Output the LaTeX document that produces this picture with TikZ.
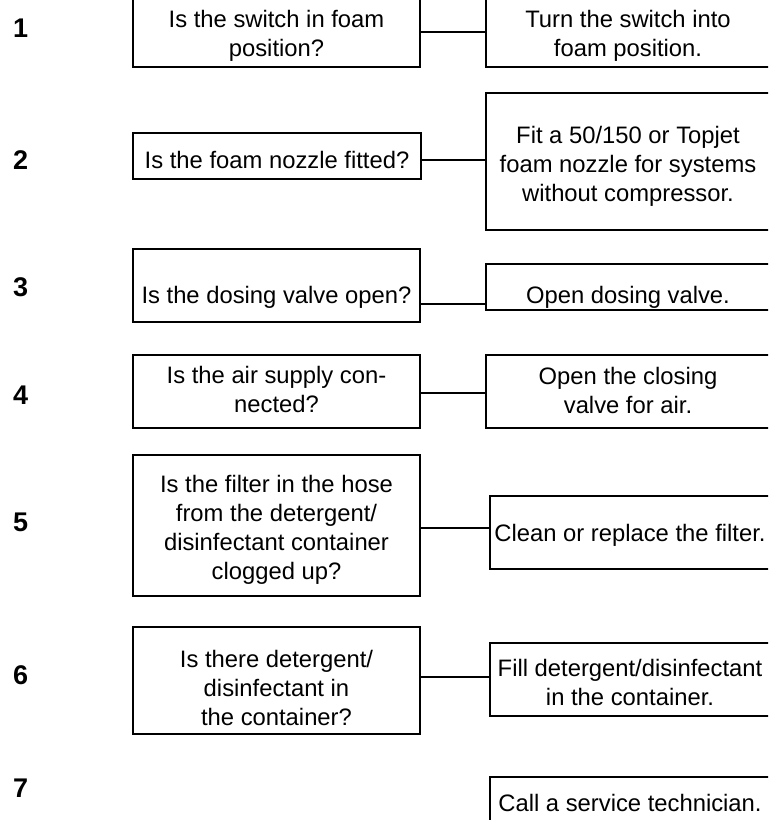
\documentclass[tikz,border=0pt]{standalone}
\usepackage{fontspec}
\setmainfont{Liberation Sans}
\begin{document}
\begin{tikzpicture}[x=0.5pt, y=-0.5pt, line width=1pt, line join=miter,
	box/.style={draw, inner sep=0pt},
	txt/.style={align=center, inner sep=0pt, font=\fontsize{11.9}{14.5}\selectfont},
	num/.style={anchor=west, inner sep=0pt, font=\fontsize{13.5}{16}\selectfont\bfseries}]
	\def\u{0.5pt}
	\useasboundingbox (0,0) rectangle (768,820);
	\clip (0,0) rectangle (768,820);
	% step numbers
	\foreach \r/\y in {1/28, 2/160, 3/287, 4/395, 5/522, 6/675, 7/788}
	\node[num] (n\r) at (12,\y) {\r};
	% question boxes
	\node[box, minimum width=287*\u, minimum height=71*\u] (q1) at (276.5,31.5) {};
	\node[box, minimum width=288*\u, minimum height=46*\u] (q2) at (277,156) {};
	\node[box, minimum width=287*\u, minimum height=73*\u] (q3) at (276.5,285.5) {};
	\node[box, minimum width=287*\u, minimum height=73*\u] (q4) at (276.5,391.5) {};
	\node[box, minimum width=287*\u, minimum height=141*\u] (q5) at (276.5,525.5) {};
	\node[box, minimum width=287*\u, minimum height=107*\u] (q6) at (276.5,680.5) {};
	% action boxes
	\node[box, minimum width=284*\u, minimum height=71*\u] (a1) at (628,31.5) {};
	\node[box, minimum width=284*\u, minimum height=137*\u] (a2) at (628,161.5) {};
	\node[box, minimum width=284*\u, minimum height=46*\u] (a3) at (628,287) {};
	\node[box, minimum width=284*\u, minimum height=73*\u] (a4) at (628,391.5) {};
	\node[box, minimum width=280*\u, minimum height=73*\u] (a5) at (630,532.5) {};
	\node[box, minimum width=280*\u, minimum height=73*\u] (a6) at (630,679.5) {};
	\node[box, minimum width=280*\u, minimum height=104*\u] (a7) at (630,829) {};
	% texts
	\node[txt] (q1t) at (276.5,36) {Is the switch in foam\\position?};
	\node[txt] (q2t) at (277,160) {Is the foam nozzle fitted?};
	\node[txt] (q3t) at (276.5,297) {Is the dosing valve open?};
	\node[txt] (q4t) at (276.5,389) {Is the air supply con-\\nected?};
	\node[txt] (q5t) at (276.5,530) {Is the filter in the hose\\from the detergent/\\disinfectant container\\clogged up?};
	\node[txt] (q6t) at (276.5,688) {Is there detergent/\\disinfectant in\\the container?};
	\node[txt] (a1t) at (628,36) {Turn the switch into\\foam position.};
	\node[txt] (a2t) at (628,166) {Fit a 50/150 or Topjet\\foam nozzle for systems\\without compressor.};
	\node[txt] (a3t) at (628,297) {Open dosing valve.};
	\node[txt] (a4t) at (628,390) {Open the closing\\valve for air.};
	\node[txt] (a5t) at (630,535) {Clean or replace the filter.};
	\node[txt] (a6t) at (630,682) {Fill detergent/disinfectant\\in the container.};
	\node[txt] (a7t) at (630,803) {Call a service technician.};
	% links
	\foreach \r/\y in {1/32, 2/160, 3/304, 4/393, 5/528, 6/677}
	\draw (q\r.east |- 0,\y) -- (a\r.west |- 0,\y);
\end{tikzpicture}
\end{document}
